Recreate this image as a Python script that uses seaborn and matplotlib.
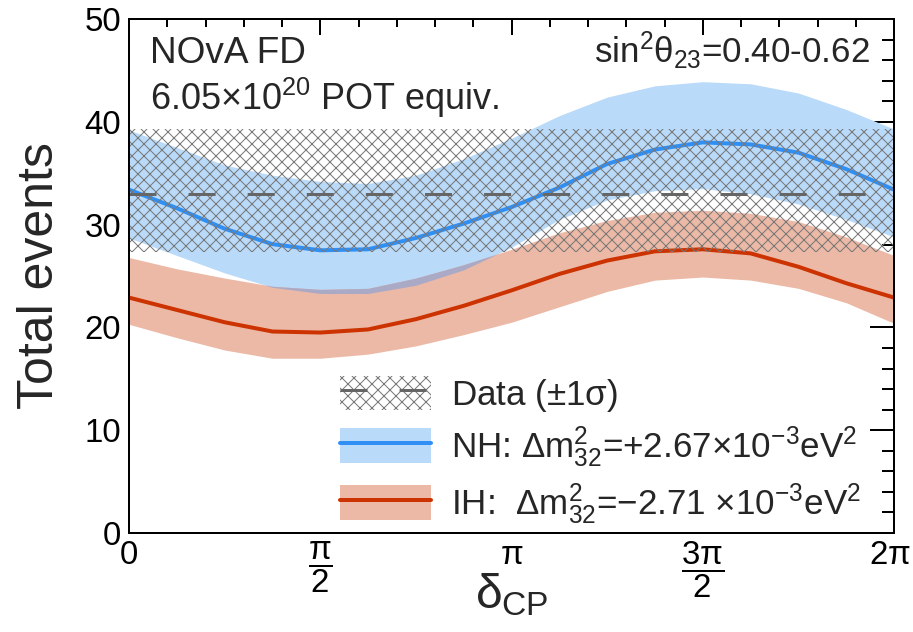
import numpy as np
import matplotlib
matplotlib.use("Agg")
import matplotlib.pyplot as plt
import matplotlib.transforms as mtransforms
import seaborn as sns
from matplotlib.patches import Patch
from matplotlib.lines import Line2D
from matplotlib.ticker import MultipleLocator, FixedLocator

# ---------------- data ----------------
delta = np.linspace(0, 2 * np.pi, 17)   # delta_CP grid, steps of pi/8

nh_mid = [33.4, 31.6, 29.6, 28.1, 27.5, 27.6, 28.7, 30.1, 31.7,
          33.6, 35.9, 37.3, 38.0, 37.8, 37.0, 35.4, 33.4]
nh_hi = [39.2, 37.5, 35.8, 34.8, 34.2, 34.0, 34.8, 36.4, 38.4,
         40.6, 42.4, 43.5, 43.9, 43.7, 42.8, 41.2, 39.3]
nh_lo = [28.7, 27.0, 25.3, 23.9, 23.3, 23.3, 24.1, 25.6, 27.8,
         30.5, 32.4, 33.3, 33.5, 33.0, 32.0, 30.5, 28.8]

ih_mid = [22.9, 21.7, 20.5, 19.6, 19.5, 19.8, 20.8, 22.1, 23.6,
          25.2, 26.5, 27.4, 27.6, 27.2, 25.9, 24.3, 22.9]
ih_hi = [26.8, 25.7, 24.8, 24.0, 23.7, 23.8, 24.8, 26.1, 27.6,
         29.2, 30.4, 31.2, 31.4, 31.1, 30.3, 28.8, 27.0]
ih_lo = [20.3, 19.0, 17.8, 17.0, 17.0, 17.4, 18.2, 19.3, 20.5,
         22.0, 23.5, 24.6, 24.9, 24.6, 23.8, 22.4, 20.4]

data_val = 33.0
data_lo = 27.3
data_hi = 39.3

xtick_pos = [0, np.pi / 2, np.pi, 3 * np.pi / 2, 2 * np.pi]
xtick_lab = ["0", r"$\dfrac{\pi}{2}$", r"$\pi$", r"$\dfrac{3\pi}{2}$", r"2$\pi$"]

labels = [r"Data ($\pm$1$\sigma$)",
          r"NH: $\Delta$m$^{2}_{32}$=+2.67$\times$10$^{-3}$eV$^{2}$",
          r"IH:  $\Delta$m$^{2}_{32}$=$-$2.71 $\times$10$^{-3}$eV$^{2}$"]

# ---------------- style ----------------
NH_LINE = "#2f8ff5"
NH_BAND = "#b9daf9"
IH_LINE = "#cc3300"
IH_BAND = "#ebb9a6"
OVERLAP = "#aaaac6"
HATCH = "#777777"
DASH = "#666666"

sns.set_style("white")
plt.rcParams["font.family"] = ["Liberation Sans", "DejaVu Sans"]
plt.rcParams["mathtext.fontset"] = "custom"
plt.rcParams["mathtext.rm"] = "Liberation Sans"
plt.rcParams["mathtext.it"] = "Liberation Sans"
plt.rcParams["mathtext.bf"] = "Liberation Sans:bold"
plt.rcParams["mathtext.sf"] = "Liberation Sans"
plt.rcParams["hatch.linewidth"] = 1.0
plt.rcParams["hatch.color"] = HATCH

DPI = 72
fig = plt.figure(figsize=(913 / DPI, 632 / DPI), dpi=DPI)
ax = fig.add_axes([129 / 913, 1 - 533 / 632, (894 - 129) / 913, (533 - 19) / 632])

nh_lo_a, nh_hi_a = np.array(nh_lo), np.array(nh_hi)
ih_lo_a, ih_hi_a = np.array(ih_lo), np.array(ih_hi)

ax.fill_between(delta, nh_lo_a, nh_hi_a, color=NH_BAND, lw=0, zorder=1)
ax.fill_between(delta, ih_lo_a, ih_hi_a, color=IH_BAND, lw=0, zorder=2)
ov_lo = np.maximum(nh_lo_a, ih_lo_a)
ov_hi = np.minimum(nh_hi_a, ih_hi_a)
ax.fill_between(delta, ov_lo, ov_hi, where=ov_hi > ov_lo, interpolate=True,
                color=OVERLAP, lw=0, zorder=2.5)

sns.lineplot(x=delta, y=nh_mid, ax=ax, color=NH_LINE, lw=4, zorder=4)
sns.lineplot(x=delta, y=ih_mid, ax=ax, color=IH_LINE, lw=4, zorder=4)

ax.axhspan(data_lo, data_hi, facecolor="none", edgecolor=HATCH, hatch="xx",
           lw=0, zorder=5)
ax.axhline(data_val, color=DASH, lw=3, dashes=(9, 10.7), zorder=6)

ax.set_xlim(0, 2 * np.pi)
ax.set_ylim(0, 50)

ax.xaxis.set_major_locator(FixedLocator(xtick_pos))
ax.set_xticklabels(xtick_lab)
ax.xaxis.set_minor_locator(MultipleLocator(np.pi / 10))
ax.yaxis.set_major_locator(MultipleLocator(10))
ax.yaxis.set_minor_locator(MultipleLocator(2))

ax.tick_params(axis="both", which="both", direction="in", top=True, right=True,
               width=2, colors="black", labelsize=33)
ax.tick_params(axis="x", which="major", length=16, pad=7)
ax.tick_params(axis="x", which="minor", length=8)
ax.tick_params(axis="y", which="major", length=24, pad=8)
ax.tick_params(axis="y", which="minor", length=12)

# keep the last x tick label ("2π") inside the figure
last = ax.get_xticklabels()[-1]
last.set_transform(last.get_transform() +
                   mtransforms.ScaledTranslation(-4 / DPI, 0, fig.dpi_scale_trans))

for sp in ax.spines.values():
    sp.set_linewidth(2)
    sp.set_color("black")
    sp.set_zorder(10)

ax.set_ylabel("Total events", fontsize=50, labelpad=21)
ax.set_xlabel(r"$\delta_{\mathrm{CP}}$", fontsize=48)
ax.xaxis.set_label_coords(0.5, -0.075)

ax.text(0.0275, 0.914, "NOvA FD", transform=ax.transAxes, fontsize=37,
        va="baseline", ha="left")
ax.text(0.0275, 0.823, r"6.05$\times$10$^{20}$ POT equiv.", transform=ax.transAxes,
        fontsize=36, va="baseline", ha="left")
ax.text(0.9686, 0.914, r"sin$^{2}\theta_{23}$=0.40-0.62", transform=ax.transAxes,
        fontsize=35, va="baseline", ha="right")

handles = [
    (Patch(facecolor="white", edgecolor=HATCH, hatch="xx", lw=0),
     Line2D([], [], color=DASH, lw=3, dashes=(9, 10.7))),
    (Patch(facecolor=NH_BAND, lw=0), Line2D([], [], color=NH_LINE, lw=4)),
    (Patch(facecolor=IH_BAND, lw=0), Line2D([], [], color=IH_LINE, lw=4)),
]
leg = ax.legend(handles, labels, loc="lower left",
                bbox_to_anchor=(0.276, 0.012), frameon=False, fontsize=35,
                handlelength=2.6, handleheight=1.15, handletextpad=0.58,
                labelspacing=0.3, borderpad=0, borderaxespad=0)
leg.set_zorder(20)

fig.savefig("out.png", dpi=DPI)
